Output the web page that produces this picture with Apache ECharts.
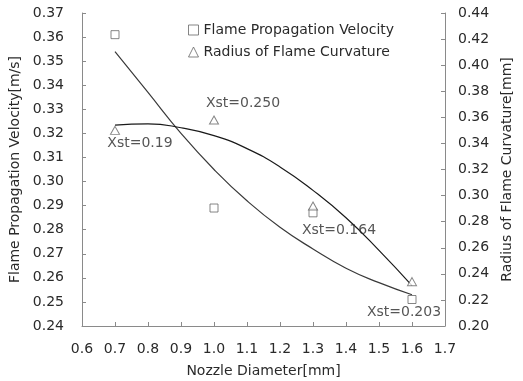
<!DOCTYPE html>
<html>
<head>
<meta charset="utf-8">
<script src="https://cdn.jsdelivr.net/npm/echarts@6/dist/echarts.min.js"></script>
<style>
  html, body { margin: 0; padding: 0; background: #fff; }
  #chart { width: 523px; height: 381px; }
</style>
</head>
<body>
<div id="chart"></div>
<script>
// Measured points
const nozzleDiameter = [0.7, 1.0, 1.3, 1.6];
const propagationVelocity = [0.361, 0.289, 0.287, 0.251];
const curvatureRadius = [0.350, 0.358, 0.292, 0.234];
const velocityNotes = ['', '', 'Xst=0.164', 'Xst=0.203'];
const radiusNotes = ['Xst=0.19', 'Xst=0.250', '', ''];

// Trend curves
const trendX = [0.7, 0.8, 0.9, 1.0, 1.1, 1.2, 1.3, 1.4, 1.5, 1.6];
const velocityTrend = [0.354, 0.337, 0.320, 0.305, 0.292, 0.281, 0.272, 0.264, 0.258, 0.253];
const radiusTrend = [0.354, 0.355, 0.352, 0.346, 0.336, 0.322, 0.304, 0.283, 0.258, 0.231];

const velocityName = 'Flame Propagation Velocity';
const radiusName = 'Radius of Flame Curvature';

const FONT = 'DejaVu Sans, sans-serif';
const TEXT = '#2a2a2a';
const AXIS = '#8a8a8a';
const MARK = '#666';

// label offsets [dx, dy] per note
const noteOffset = {
  'Xst=0.19': [25, 13],
  'Xst=0.250': [29, -17],
  'Xst=0.164': [26, 18],
  'Xst=0.203': [-8, 13]
};

function pointsWithNotes(xs, ys, notes) {
  return xs.map((x, i) => {
    const item = { value: [x, ys[i]] };
    if (notes[i]) {
      item.label = {
        show: true,
        formatter: notes[i],
        position: 'inside',
        offset: noteOffset[notes[i]],
        color: TEXT,
        fontFamily: FONT,
        fontSize: 14
      };
    }
    return item;
  });
}

const chart = echarts.init(document.getElementById('chart'), null, { renderer: 'canvas' });

const valueAxisCommon = {
  type: 'value',
  axisLine: { show: true, lineStyle: { color: AXIS, width: 1 } },
  axisTick: { show: true, inside: true, length: 4, lineStyle: { color: AXIS } },
  splitLine: { show: false },
  nameTextStyle: { color: TEXT, fontFamily: FONT, fontSize: 14 },
  axisLabel: { color: TEXT, fontFamily: FONT, fontSize: 14 }
};

chart.setOption({
  animation: false,
  backgroundColor: '#fff',
  grid: { left: 82, right: 78, top: 13, bottom: 55, containLabel: false, outerBoundsMode: 'none' },
  legend: {
    data: [
      { name: velocityName, icon: 'path://M0,0H10V10H0Z' },
      { name: radiusName, icon: 'path://M5,0L10,10H0Z' }
    ],
    orient: 'vertical',
    left: 183,
    top: 18,
    itemWidth: 10,
    itemHeight: 10,
    itemGap: 8,
    textStyle: { color: TEXT, fontFamily: FONT, fontSize: 14 },
    itemStyle: { color: 'transparent', borderColor: MARK, borderWidth: 1 }
  },
  xAxis: {
    ...valueAxisCommon,
    min: 0.6,
    max: 1.7,
    interval: 0.1,
    name: 'Nozzle Diameter[mm]',
    nameLocation: 'middle',
    nameGap: 38,
    axisLabel: {
      ...valueAxisCommon.axisLabel,
      margin: 16,
      formatter: v => v.toFixed(1)
    }
  },
  yAxis: [
    {
      ...valueAxisCommon,
      position: 'left',
      min: 0.24,
      max: 0.37,
      interval: 0.01,
      name: 'Flame Propagation Velocity[m/s]',
      nameLocation: 'middle',
      nameGap: 60,
      axisLabel: { ...valueAxisCommon.axisLabel, margin: 18, formatter: v => v.toFixed(2) }
    },
    {
      ...valueAxisCommon,
      position: 'right',
      min: 0.20,
      max: 0.44,
      interval: 0.02,
      name: 'Radius of Flame Curvature[mm]',
      nameLocation: 'middle',
      nameGap: 50,
      nameRotate: 90,
      axisLabel: { ...valueAxisCommon.axisLabel, margin: 13, formatter: v => v.toFixed(2) }
    }
  ],
  series: [
    {
      name: velocityName + ' trend',
      type: 'line',
      yAxisIndex: 0,
      data: trendX.map((x, i) => [x, velocityTrend[i]]),
      smooth: true,
      showSymbol: false,
      silent: true,
      lineStyle: { color: '#3a3a3a', width: 1.2 },
      z: 1
    },
    {
      name: radiusName + ' trend',
      type: 'line',
      yAxisIndex: 1,
      data: trendX.map((x, i) => [x, radiusTrend[i]]),
      smooth: true,
      showSymbol: false,
      silent: true,
      lineStyle: { color: '#1a1a1a', width: 1.2 },
      z: 1
    },
    {
      name: velocityName,
      type: 'scatter',
      yAxisIndex: 0,
      symbol: 'rect',
      symbolSize: 8,
      itemStyle: { color: '#fff', borderColor: MARK, borderWidth: 1 },
      data: pointsWithNotes(nozzleDiameter, propagationVelocity, velocityNotes),
      z: 3
    },
    {
      name: radiusName,
      type: 'scatter',
      yAxisIndex: 1,
      symbol: 'triangle',
      symbolSize: [9, 8],
      itemStyle: { color: '#fff', borderColor: MARK, borderWidth: 1 },
      data: pointsWithNotes(nozzleDiameter, curvatureRadius, radiusNotes),
      z: 3
    }
  ]
});
</script>
</body>
</html>
